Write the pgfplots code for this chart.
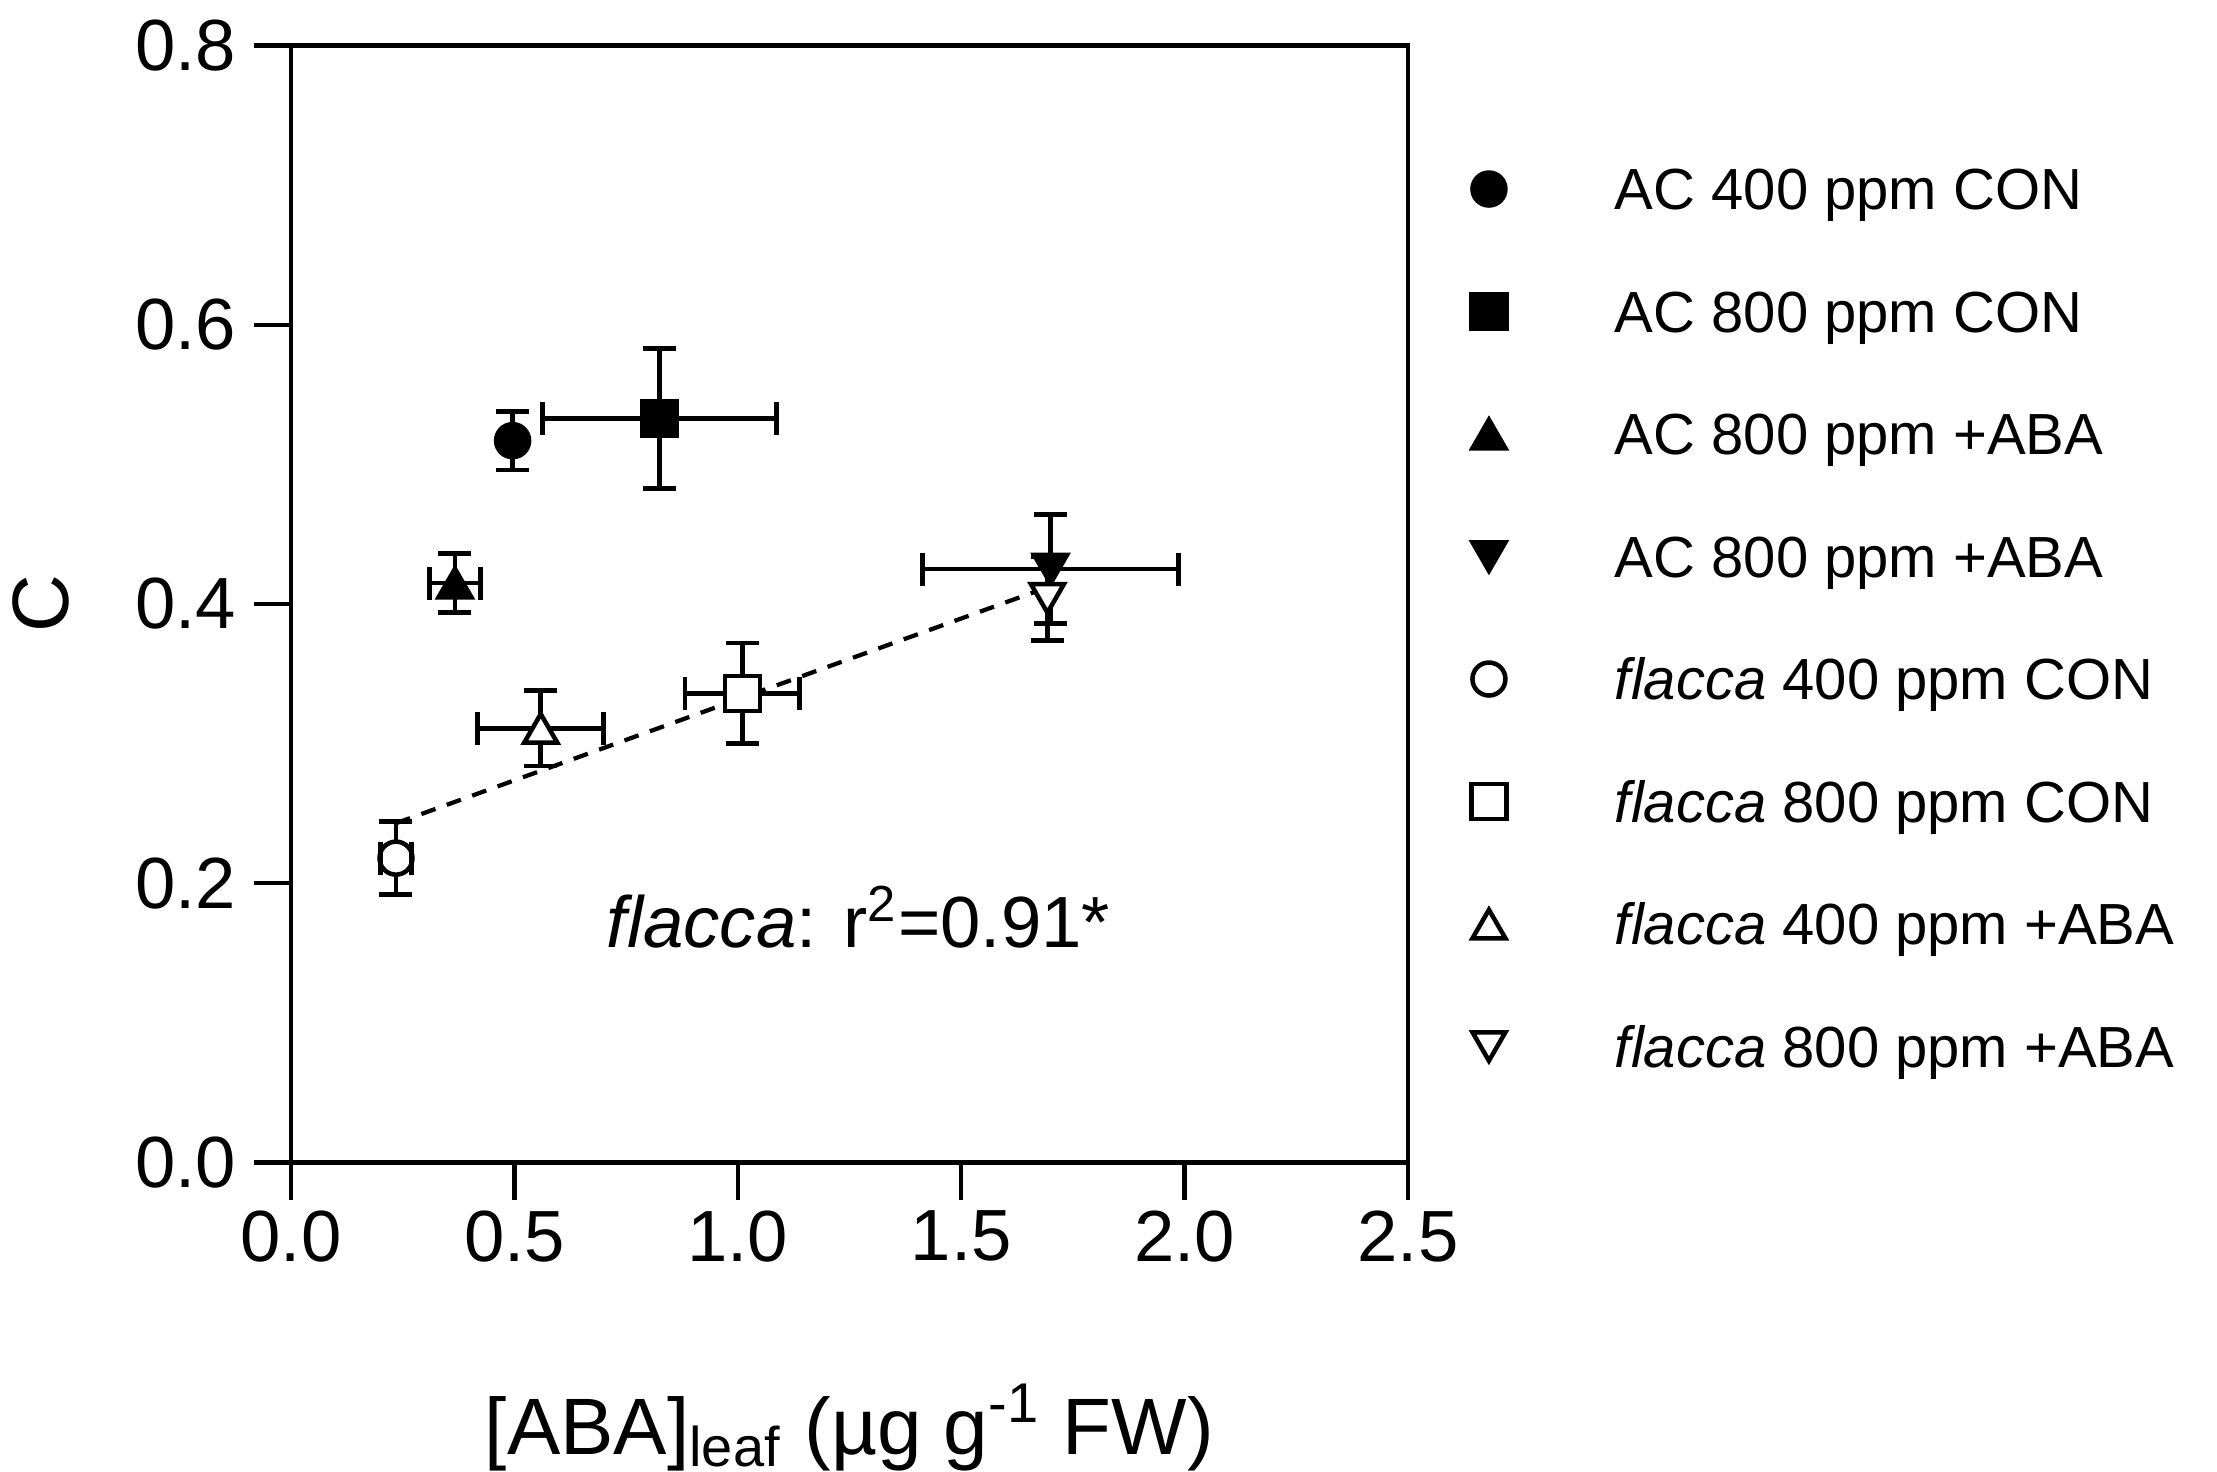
\documentclass[border=0pt]{standalone}
\usepackage{fontspec}
\setmainfont{Liberation Sans}
\usepackage{pgfplots}
\pgfplotsset{compat=1.18}
\begin{document}
\begin{tikzpicture}
\useasboundingbox (-58.2pt,-61.8pt) rectangle (385.2pt,232.5pt);
\begin{axis}[
  at={(0,0)}, anchor=south west,
  scale only axis, width=223.4pt, height=223.4pt,
  xmin=0, xmax=2.5, ymin=0, ymax=0.8,
  xtick={0,0.5,1,1.5,2,2.5}, ytick={0,0.2,0.4,0.6,0.8},
  axis line style={line width=0.85pt},
  tick style={line width=0.85pt, black},
  tick align=outside, major tick length=7.5pt,
  xtick pos=bottom, ytick pos=left,
  /pgf/number format/assume math mode=true,
  xticklabel style={/pgf/number format/fixed, /pgf/number format/fixed zerofill, /pgf/number format/precision=1, font=\fontsize{14.5}{16}\selectfont, yshift=1.4pt},
  yticklabel style={/pgf/number format/fixed, /pgf/number format/fixed zerofill, /pgf/number format/precision=1, font=\fontsize{14.5}{16}\selectfont},
  xlabel={[ABA]\textsubscript{leaf} (µg g\textsuperscript{-1} FW)},
  xlabel style={font=\fontsize{16}{19}\selectfont, at={([yshift=-58.3pt]axis description cs:0.5,0)}, anchor=base},
  ylabel={C},
  ylabel style={font=\fontsize{16}{19}\selectfont, at={([xshift=-50pt]axis description cs:0,0.5)}, anchor=center},
  legend image code/.code={\draw[#1] plot coordinates {(0pt,0pt)}; \path[draw=none,fill=none] (-5pt,-6pt) rectangle (21.7pt,6pt);},
  legend cell align=left,
  legend style={draw=none, fill=none, inner sep=0pt, at={(1.0492,0.8993)}, anchor=north west,
    row sep=12.5pt, column sep=0pt,
    nodes={inner xsep=3.5pt, inner ysep=0pt, text height=8.3pt, text depth=0pt, anchor=west, font=\fontsize{11.6}{14}\selectfont}},
  myerr/.style={line width=0.95pt, error bars/.cd, y dir=both, y explicit,
    error bar style={line width=0.95pt, solid},
    error mark options={rotate=90, mark size=3.3pt, line width=0.95pt}},
  xerrline/.style={black, line width=0.95pt, solid, mark=|, mark size=3.3pt, mark options={solid, line width=0.95pt}, forget plot},
]
% horizontal (x) error bars: mean - SE to mean + SE
\addplot[xerrline] coordinates {(0.563,0.533) (1.087,0.533)};
\addplot[xerrline] coordinates {(0.310,0.415) (0.424,0.415)};
\addplot[xerrline] coordinates {(1.414,0.425) (1.986,0.425)};
\addplot[xerrline] coordinates {(0.882,0.336) (1.138,0.336)};
% AC 400 ppm CON
\addplot[black, only marks, mark=*, mark size=3.3pt, mark options={fill=black, line width=0.9pt}, myerr]
  coordinates {(0.496,0.517) +- (0,0.021)};
\addlegendentry{AC 400 ppm CON}
% AC 800 ppm CON
\addplot[black, only marks, mark=square*, mark size=3.5pt, mark options={fill=black, line width=0.9pt}, myerr]
  coordinates {(0.825,0.533) +- (0,0.050)};
\addlegendentry{AC 800 ppm CON}
% AC 800 ppm +ABA (up)
\addplot[black, only marks, mark=triangle*, mark size=3.8pt, mark options={fill=black, line width=0.9pt, yshift=-0.95pt}, myerr]
  coordinates {(0.367,0.415) +- (0,0.021)};
\addlegendentry{AC 800 ppm +ABA}
% AC 800 ppm +ABA (down)
\addplot[black, only marks, mark=triangle*, mark size=3.8pt, mark options={fill=black, line width=0.9pt, rotate=180, yshift=-0.95pt}, myerr]
  coordinates {(1.700,0.425) +- (0,0.039)};
\addlegendentry{AC 800 ppm +ABA}
% flacca 400 ppm CON
\addplot[black, only marks, mark=*, mark size=3.3pt, mark options={fill=white, line width=0.9pt}, myerr]
  coordinates {(0.235,0.218) +- (0,0.026)};
\addlegendentry{\textit{flacca} 400 ppm CON}
% flacca 800 ppm CON
\addplot[black, only marks, mark=square*, mark size=3.5pt, mark options={fill=white, line width=0.9pt}, myerr]
  coordinates {(1.010,0.336) +- (0,0.036)};
\addlegendentry{\textit{flacca} 800 ppm CON}
% flacca 400 ppm +ABA
\addplot[black, only marks, mark=triangle*, mark size=3.8pt, mark options={fill=white, line width=0.9pt, yshift=-0.95pt}, myerr]
  coordinates {(0.559,0.311) +- (0,0.027)};
\addlegendentry{\textit{flacca} 400 ppm +ABA}
% flacca 800 ppm +ABA
\addplot[black, only marks, mark=triangle*, mark size=3.8pt, mark options={fill=white, line width=0.9pt, rotate=180, yshift=-0.95pt}, myerr]
  coordinates {(1.693,0.404) +- (0,0.030)};
\addlegendentry{\textit{flacca} 800 ppm +ABA}
% x error bars drawn over the open markers
\addplot[xerrline] coordinates {(0.200,0.218) (0.270,0.218)};
\addplot[xerrline] coordinates {(0.418,0.311) (0.700,0.311)};
% regression line (flacca)
\addplot[black, line width=0.85pt, dash pattern=on 3pt off 2.4pt, forget plot]
  coordinates {(0.235,0.243) (1.693,0.412)};
\node[anchor=base, font=\fontsize{14.5}{17}\selectfont] at (axis cs:1.27,0.154) {\textit{flacca}: r\textsuperscript{2}=0.91*};
\end{axis}
\end{tikzpicture}
\end{document}
